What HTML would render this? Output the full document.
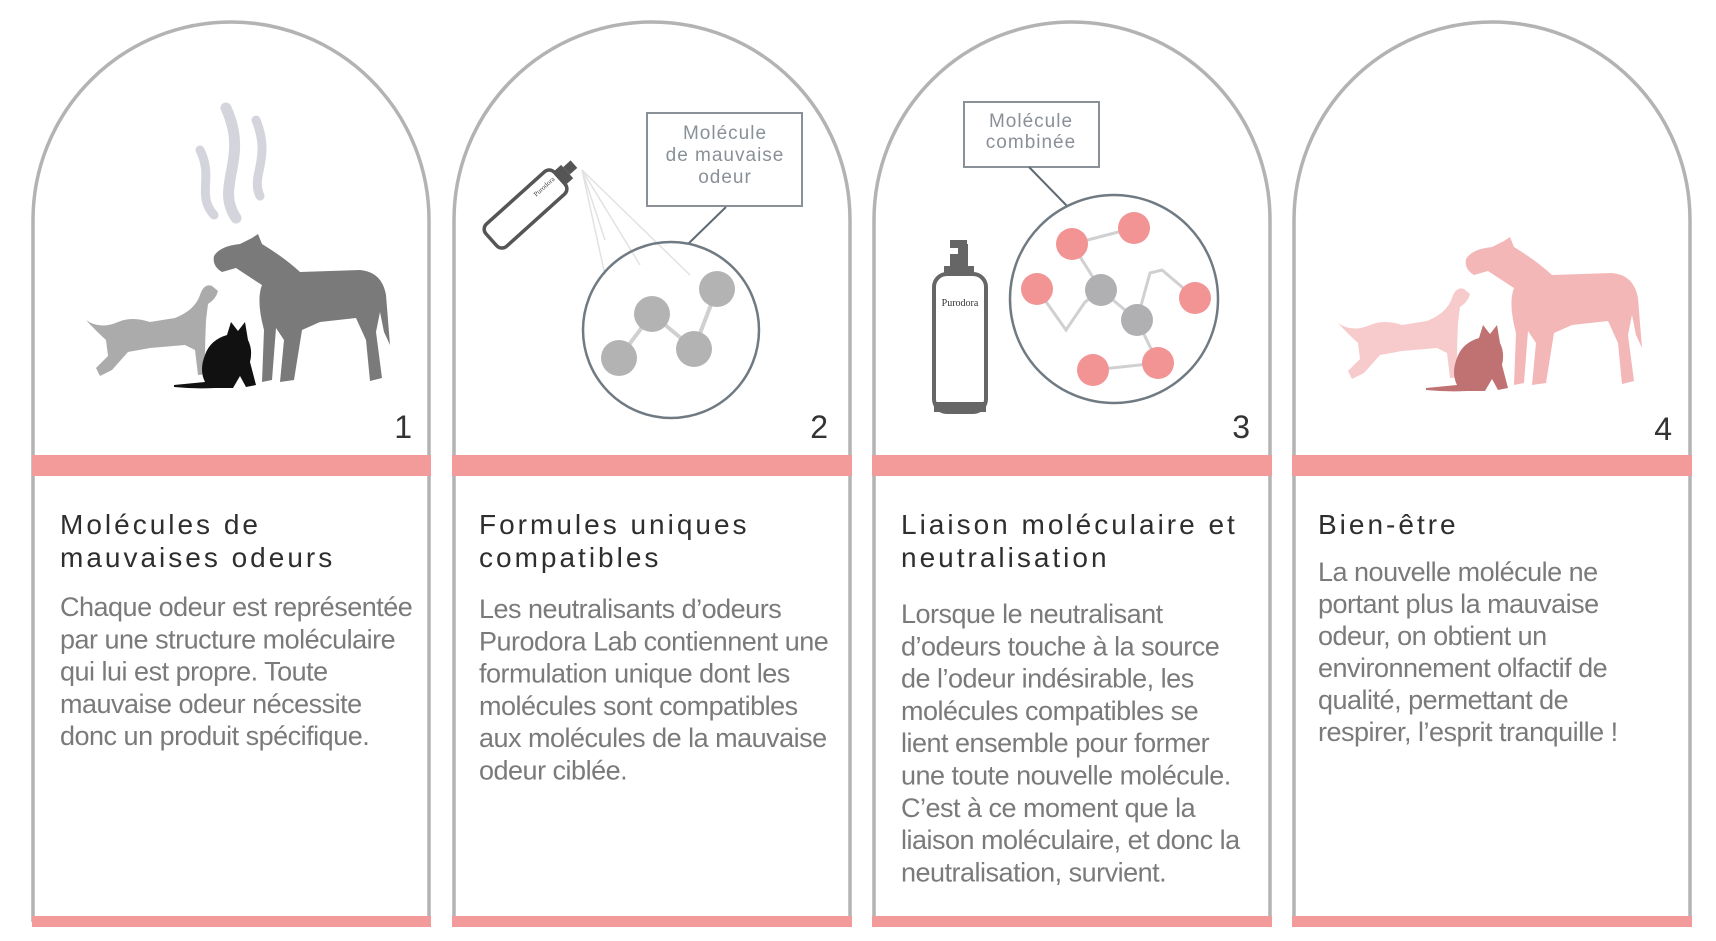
<!DOCTYPE html>
<html><head><meta charset="utf-8"><style>
html,body{margin:0;padding:0;background:#fff;}
svg{display:block;}
.t{font-family:"Liberation Sans",sans-serif;font-size:28px;fill:#2e2e2e;letter-spacing:3px;}
.b{font-family:"Liberation Sans",sans-serif;font-size:27px;fill:#7a7a7a;letter-spacing:-0.5px;}
.n{font-family:"Liberation Sans",sans-serif;font-size:32px;fill:#333;}
.lbl{font-family:"Liberation Sans",sans-serif;font-size:19px;fill:#8a9097;letter-spacing:1px;}
</style></head><body>
<svg width="1716" height="941" viewBox="0 0 1716 941" xmlns="http://www.w3.org/2000/svg">
<defs>
<path id="arch" d="M0,900 L0,198 A198,198 0 0 1 396,198 L396,900" fill="none" stroke="#b3b3b3" stroke-width="3.5"/>
<path id="horse" d="M214,256 Q220,246 240,244 L252,238 L258,234 L262,244 Q285,258 300,272 L360,270 Q382,272 386,295 L390,345 L384,332 L380,312 L376,332 L382,378 L370,381 L366,340 L356,318 L320,322 L302,330 L294,380 L280,382 L284,340 L276,328 L272,380 L262,382 L264,330 Q256,300 262,285 Q248,276 236,268 L222,272 Q212,266 214,256 Z"/>
<path id="dog" d="M86,320 Q100,330 118,322 Q132,316 150,322 L175,318 Q195,310 200,295 Q204,283 212,286 L218,291 Q216,299 208,304 L206,320 Q205,340 205,360 L210,374 L198,375 L195,350 L185,345 L150,348 L128,352 L112,370 L100,376 L96,368 L108,356 L106,340 Q95,330 86,320 Z"/>
<path id="cat" d="M174,385 L205,382 Q199,370 205,355 Q210,340 227,335 L231,322 L238,331 L245,322 L248,340 Q253,350 250,362 L256,385 L246,387 L240,376 L233,388 L215,388 Q195,389 174,387 Z"/>
</defs>

<g transform="translate(33,22)"><use href="#arch"/></g>
<g transform="translate(454,22)"><use href="#arch"/></g>
<g transform="translate(874,22)"><use href="#arch"/></g>
<g transform="translate(1294,22)"><use href="#arch"/></g>
<g fill="#f39b9a">
<rect x="32" y="455" width="399" height="21"/><rect x="452" y="455" width="400" height="21"/>
<rect x="872" y="455" width="400" height="21"/><rect x="1292" y="455" width="400" height="21"/>
<rect x="32" y="916" width="399" height="11"/><rect x="452" y="916" width="400" height="11"/>
<rect x="872" y="916" width="400" height="11"/><rect x="1292" y="916" width="400" height="11"/>
</g>

<g fill="none" stroke="#d4d5dc" stroke-linecap="round">
<path d="M214,215 C196,195 214,178 200,150" stroke-width="9"/>
<path d="M236,218 C214,185 250,160 226,108" stroke-width="11"/>
<path d="M260,196 C250,175 272,160 256,120" stroke-width="9"/>
</g>
<use href="#dog" fill="#ababab"/>
<use href="#horse" fill="#7a7a7a"/>
<use href="#cat" fill="#111"/>
<text class="n" x="412" y="438" text-anchor="end">1</text>

<g stroke="#e2e2e2" stroke-width="1.5">
<line x1="582" y1="170" x2="605" y2="275"/><line x1="582" y1="170" x2="640" y2="265"/>
<line x1="582" y1="170" x2="690" y2="275"/><line x1="582" y1="170" x2="605" y2="240"/>
</g>
<g transform="translate(530,205) rotate(-42)">
<rect x="-52" y="-15" width="92" height="30" rx="7" fill="#fff" stroke="#555" stroke-width="3.5"/>
<rect x="40" y="-9" width="10" height="18" fill="#555"/>
<rect x="50" y="-6" width="10" height="10" fill="#555"/>
<text x="10" y="-2" font-family="Liberation Serif,serif" font-size="7" fill="#444">Purodora</text>
</g>
<rect x="647" y="113" width="155" height="93" fill="#fff" stroke="#8a9097" stroke-width="2"/>
<text class="lbl" x="725" y="139" text-anchor="middle">Molécule</text>
<text class="lbl" x="725" y="161" text-anchor="middle">de mauvaise</text>
<text class="lbl" x="725" y="183" text-anchor="middle">odeur</text>
<line x1="726" y1="207" x2="688" y2="244" stroke="#606a72" stroke-width="2"/>
<circle cx="671" cy="330" r="88" fill="none" stroke="#707a82" stroke-width="2.5"/>
<g stroke="#d0d0d0" stroke-width="4"><line x1="619" y1="358" x2="652" y2="314"/><line x1="652" y1="314" x2="694" y2="349"/><line x1="694" y1="349" x2="717" y2="289"/></g>
<g fill="#b3b3b3"><circle cx="652" cy="314" r="18"/><circle cx="717" cy="289" r="18"/><circle cx="619" cy="358" r="18"/><circle cx="694" cy="349" r="18"/></g>
<text class="n" x="828" y="438" text-anchor="end">2</text>

<rect x="964" y="102" width="135" height="65" fill="#fff" stroke="#8a9097" stroke-width="2"/>
<text class="lbl" x="1031" y="127" text-anchor="middle">Molécule</text>
<text class="lbl" x="1031" y="148" text-anchor="middle">combinée</text>
<line x1="1029" y1="167" x2="1067" y2="206" stroke="#606a72" stroke-width="2"/>
<circle cx="1114" cy="299" r="104" fill="none" stroke="#707a82" stroke-width="2.5"/>
<g stroke="#d0d0d0" stroke-width="3" fill="none">
<line x1="1072" y1="244" x2="1134" y2="228"/>
<line x1="1072" y1="244" x2="1101" y2="290"/>
<polyline points="1037,289 1066,330 1085,302 1101,290"/>
<line x1="1101" y1="290" x2="1137" y2="320"/>
<polyline points="1137,320 1150,273 1162,270 1195,298"/>
<line x1="1137" y1="320" x2="1158" y2="363"/>
<line x1="1093" y1="370" x2="1158" y2="363"/>
</g>
<g fill="#f29394"><circle cx="1072" cy="244" r="16"/><circle cx="1134" cy="228" r="16"/><circle cx="1037" cy="289" r="16"/><circle cx="1195" cy="298" r="16"/><circle cx="1093" cy="370" r="16"/><circle cx="1158" cy="363" r="16"/></g>
<g fill="#b0b0b2"><circle cx="1101" cy="290" r="16"/><circle cx="1137" cy="320" r="16"/></g>
<rect x="950" y="240" width="17" height="8" fill="#666"/><rect x="958" y="244" width="10" height="12" fill="#666"/>
<rect x="950" y="254" width="18" height="14" fill="#666"/>
<rect x="944" y="266" width="30" height="8" fill="#666"/>
<rect x="934" y="274" width="52" height="138" rx="13" fill="#fff" stroke="#666" stroke-width="4"/>
<rect x="934" y="402" width="52" height="10" fill="#666"/>
<text x="960" y="306" font-family="Liberation Serif,serif" font-size="10" fill="#333" text-anchor="middle">Purodora</text>
<text class="n" x="1250" y="438" text-anchor="end">3</text>

<g transform="translate(1252,3)">
<use href="#dog" fill="#f7cbcb"/>
<use href="#horse" fill="#f4b7b8"/>
<use href="#cat" fill="#c07273"/>
</g>
<text class="n" x="1672" y="440" text-anchor="end">4</text>

<text class="t" x="60" y="534">Molécules de</text>
<text class="t" x="60" y="567">mauvaises odeurs</text>
<text class="t" x="479" y="534">Formules uniques</text>
<text class="t" x="479" y="567">compatibles</text>
<text class="t" x="901" y="534">Liaison moléculaire et</text>
<text class="t" x="901" y="567">neutralisation</text>
<text class="t" x="1318" y="534">Bien-être</text>

<text class="b" x="60" y="616">
<tspan x="60">Chaque odeur est représentée</tspan>
<tspan x="60" dy="32.3">par une structure moléculaire</tspan>
<tspan x="60" dy="32.3">qui lui est propre. Toute</tspan>
<tspan x="60" dy="32.3">mauvaise odeur nécessite</tspan>
<tspan x="60" dy="32.3">donc un produit spécifique.</tspan>
</text>
<text class="b" x="479" y="618">
<tspan x="479">Les neutralisants d’odeurs</tspan>
<tspan x="479" dy="32.3">Purodora Lab contiennent une</tspan>
<tspan x="479" dy="32.3">formulation unique dont les</tspan>
<tspan x="479" dy="32.3">molécules sont compatibles</tspan>
<tspan x="479" dy="32.3">aux molécules de la mauvaise</tspan>
<tspan x="479" dy="32.3">odeur ciblée.</tspan>
</text>
<text class="b" x="901" y="623">
<tspan x="901">Lorsque le neutralisant</tspan>
<tspan x="901" dy="32.3">d’odeurs touche à la source</tspan>
<tspan x="901" dy="32.3">de l’odeur indésirable, les</tspan>
<tspan x="901" dy="32.3">molécules compatibles se</tspan>
<tspan x="901" dy="32.3">lient ensemble pour former</tspan>
<tspan x="901" dy="32.3">une toute nouvelle molécule.</tspan>
<tspan x="901" dy="32.3">C’est à ce moment que la</tspan>
<tspan x="901" dy="32.3">liaison moléculaire, et donc la</tspan>
<tspan x="901" dy="32.3">neutralisation, survient.</tspan>
</text>
<text class="b" x="1318" y="581">
<tspan x="1318">La nouvelle molécule ne</tspan>
<tspan x="1318" dy="32">portant plus la mauvaise</tspan>
<tspan x="1318" dy="32">odeur, on obtient un</tspan>
<tspan x="1318" dy="32">environnement olfactif de</tspan>
<tspan x="1318" dy="32">qualité, permettant de</tspan>
<tspan x="1318" dy="32">respirer, l’esprit tranquille !</tspan>
</text>
</svg>
</body></html>
